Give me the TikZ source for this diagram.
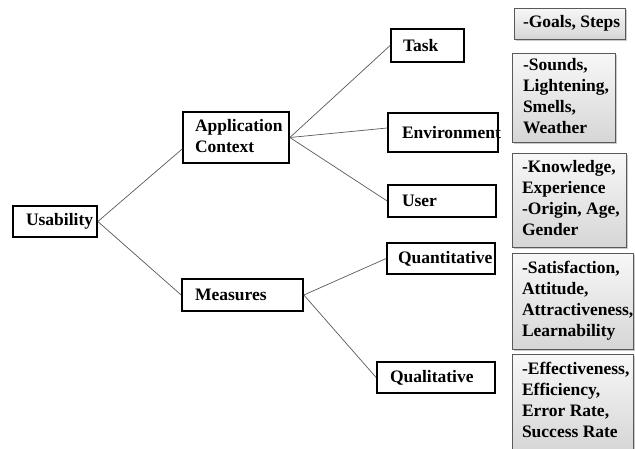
\documentclass[tikz,border=0pt]{standalone}
\usepackage{fontspec}
\setmainfont{Liberation Serif}
\usetikzlibrary{shadows}
\begin{document}
\begin{tikzpicture}[x=1pt,y=-1pt,
  txt/.style={font=\bfseries\fontsize{17.5}{21}\selectfont},
  wbox/.style={txt, draw=black, line width=1.7pt, fill=white, inner sep=0pt},
  gbox/.style={txt, draw=black!65, line width=0.7pt, top color=gray!6, bottom color=gray!32, inner sep=0pt,
    drop shadow={shadow xshift=1.5pt, shadow yshift=-1.5pt, fill=gray!70, opacity=0.6}},
  link/.style={draw=black!65, line width=0.7pt}]
\useasboundingbox (0,0) rectangle (635,448);

% white boxes
\node[wbox, minimum width=84, minimum height=31] (usab) at (55,221.5) {\makebox[58pt][l]{Usability}};
\node[wbox, minimum width=106, minimum height=51] (app) at (236,137.5) {\makebox[82pt][l]{\begin{tabular}{@{}l@{}}Application\\Context\end{tabular}}};
\node[wbox, minimum width=121, minimum height=32] (meas) at (242.5,295) {\makebox[95pt][l]{Measures}};
\node[wbox, minimum width=73, minimum height=33] (task) at (427.5,45.5) {\makebox[49pt][l]{Task}};
\node[wbox, minimum width=110, minimum height=39] (env) at (443,132.5) {\makebox[82pt][l]{Environment}};
\node[wbox, minimum width=108, minimum height=32] (user) at (442,201) {\makebox[80pt][l]{User}};
\node[wbox, minimum width=108, minimum height=31] (quant) at (441,258.5) {\makebox[86pt][l]{Quantitative}};
\node[wbox, minimum width=118, minimum height=31] (qual) at (436,377.5) {\makebox[92pt][l]{Qualitative}};

% grey boxes
\node[gbox, minimum width=111, minimum height=31] (goals) at (569.5,23.5) {\makebox[93pt][l]{-Goals, Steps}};
\node[gbox, minimum width=103, minimum height=89] (sounds) at (563.5,97.5) {\makebox[81pt][l]{\begin{tabular}{@{}l@{}}-Sounds,\\Lightening,\\Smells,\\Weather\end{tabular}}};
\node[gbox, minimum width=114, minimum height=94] (know) at (569,200) {\makebox[94pt][l]{\begin{tabular}{@{}l@{}}-Knowledge,\\Experience\\-Origin, Age,\\Gender\end{tabular}}};
\node[gbox, minimum width=121, minimum height=96] (satis) at (572.5,301) {\makebox[101pt][l]{\begin{tabular}{@{}l@{}}-Satisfaction,\\Attitude,\\Attractiveness,\\Learnability\end{tabular}}};
\node[gbox, minimum width=121, minimum height=96] (effect) at (572.5,402) {\makebox[101pt][l]{\begin{tabular}{@{}l@{}}-Effectiveness,\\Efficiency,\\Error Rate,\\Success Rate\end{tabular}}};

% connectors
\draw[link] (usab.east) -- ([yshift=-11.5pt]app.west);
\draw[link] (usab.east) -- (meas.west);
\draw[link] (app.east) -- (task.west);
\draw[link] (app.east) -- ([yshift=4.5pt]env.west);
\draw[link] (app.east) -- (user.west);
\draw[link] (meas.east) -- (quant.west);
\draw[link] (meas.east) -- (qual.west);
\end{tikzpicture}
\end{document}
